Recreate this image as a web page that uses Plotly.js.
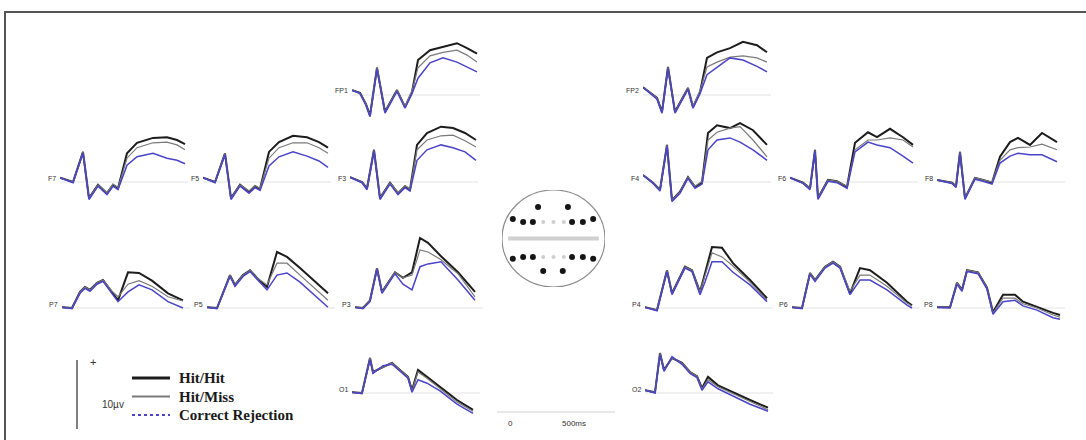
<!DOCTYPE html>
<html>
<head>
<meta charset="utf-8">
<script src="https://cdn.plot.ly/plotly-3.0.1.min.js"></script>
<style>html,body{margin:0;padding:0;background:#fff;}#chart{width:1086px;height:440px;}</style>
</head>
<body>
<div id="chart"></div>
<script>
// ---------- DATA (time in ms, amplitude in µV) ----------
const FP1_t   = [-100,-36,12,44,100,164,260,324,380,428,524,628,740,820,900];
const FP1_hit = [0.7,0.3,-1.3,-2.9,3.9,-2.4,0.7,-1.7,0.4,5.0,6.4,6.9,7.4,6.7,5.9];
const FP1_miss= [0.7,0.3,-1.3,-2.9,3.9,-2.4,0.7,-1.6,0.6,3.9,5.6,6.1,6.4,5.7,4.7];
const FP1_cr  = [0.7,0.2,-1.5,-3.1,3.7,-2.6,0.5,-1.9,0.2,2.4,4.6,5.3,4.7,4.0,3.3];

const FP2_t   = [-100,-44,12,52,100,156,260,300,356,412,492,596,700,812,892];
const FP2_hit = [1.1,0.4,-0.4,-2.4,4.0,-2.4,1.0,-1.7,0.4,5.3,6.1,6.7,7.6,7.1,6.1];
const FP2_miss= [1.1,0.4,-0.4,-2.4,4.0,-2.4,1.0,-1.6,0.6,4.0,4.7,5.4,5.6,5.3,4.7];
const FP2_cr  = [1.1,0.3,-0.6,-2.6,3.8,-2.6,0.8,-1.9,0.2,2.9,4.0,5.3,5.0,4.1,3.3];

const F7_t    = [-100,4,84,132,204,276,324,364,436,516,644,756,836,900];
const F7_hit  = [0.6,0,4.3,-2.3,-0.4,-1.6,-0.4,-0.9,4.1,5.6,6.3,6.4,6.0,5.4];
const F7_miss = [0.6,0,4.3,-2.3,-0.4,-1.5,-0.3,-0.8,3.4,4.9,5.6,5.7,5.3,4.6];
const F7_cr   = [0.6,-0.1,4.1,-2.5,-0.6,-1.8,-0.6,-1.1,2.4,3.6,4.1,3.4,3.1,2.6];

const F5_t    = [-100,-4,76,124,196,268,316,356,428,508,620,732,828,900];
const F5_hit  = [0.6,0,4.1,-2.3,-0.4,-1.4,-0.6,-1.0,4.3,5.7,6.6,6.4,5.7,4.9];
const F5_miss = [0.6,0,4.1,-2.3,-0.4,-1.3,-0.5,-0.9,3.4,4.9,5.6,5.6,4.9,4.1];
const F5_cr   = [0.6,-0.1,3.9,-2.5,-0.6,-1.6,-0.8,-1.2,2.3,3.6,4.3,3.7,3.0,2.1];

const F3_t    = [-100,-4,36,92,140,220,284,340,380,436,516,628,724,820,908];
const F3_hit  = [0.7,0,-0.9,4.6,-2.3,-0.1,-1.6,-0.6,-1.1,5.3,7.0,7.9,7.7,7.0,6.0];
const F3_miss = [0.7,0,-0.9,4.6,-2.3,-0.1,-1.5,-0.5,-1.0,4.6,6.0,6.6,6.7,5.9,5.0];
const F3_cr   = [0.7,-0.1,-1.1,4.4,-2.5,-0.3,-1.8,-0.8,-1.3,3.1,4.6,5.3,4.9,4.3,3.1];

const F4_t    = [-100,-20,36,92,132,196,260,316,372,420,492,596,676,780,892];
const F4_hit  = [1.0,-0.1,-1.1,5.3,-2.6,-1.4,0.7,-0.7,-0.1,7.0,8.1,7.7,8.4,7.4,5.3];
const F4_miss = [1.0,-0.1,-1.1,5.3,-2.6,-1.4,0.7,-0.6,0.1,6.0,7.1,7.7,7.9,6.0,3.6];
const F4_cr   = [1.0,-0.2,-1.3,5.1,-2.8,-1.6,0.5,-0.9,-0.3,4.6,6.0,6.3,5.7,4.6,3.1];

const F6_t    = [-100,4,60,100,124,204,276,356,420,524,596,700,804,884];
const F6_hit  = [0.6,-0.1,-0.9,4.6,-2.3,0.3,0.1,-0.7,5.6,7.1,6.4,7.6,6.4,5.3];
const F6_miss = [0.6,-0.1,-0.9,4.6,-2.3,0.3,0.1,-0.6,4.6,6.0,6.0,6.3,6.0,5.0];
const F6_cr   = [0.6,-0.2,-1.1,4.4,-2.5,0.1,-0.1,-0.9,4.3,5.7,5.3,4.9,3.7,2.7];

const F8_t    = [-100,20,52,84,124,204,268,340,404,484,548,644,740,860];
const F8_hit  = [0.3,-0.1,-0.6,4.3,-2.3,0.6,0.3,-0.1,3.6,5.7,6.3,5.3,7.0,5.7];
const F8_miss = [0.3,-0.1,-0.6,4.3,-2.3,0.6,0.3,0,3.1,4.6,4.9,5.0,5.4,4.6];
const F8_cr   = [0.3,-0.2,-0.8,4.1,-2.5,0.4,0.1,-0.3,2.7,3.7,4.1,3.9,3.9,2.9];

const P7_t    = [-100,-20,44,84,124,180,228,300,348,428,516,620,748,868];
const P7_hit  = [0.1,0,2.3,3.0,2.6,3.6,4.0,2.3,1.1,5.1,5.0,3.9,2.1,1.1];
const P7_miss = [0.1,0,2.3,3.0,2.6,3.6,4.0,2.4,1.6,3.4,3.9,3.1,1.6,1.0];
const P7_cr   = [0.1,-0.1,2.1,2.8,2.4,3.4,3.8,2.1,0.9,2.3,3.3,2.6,0.9,0];

const P5_t    = [-100,-20,84,124,188,244,300,380,460,540,644,780,868];
const P5_hit  = [0.1,0,4.7,3.3,4.7,5.4,4.3,3.0,8.0,7.3,5.7,3.6,2.1];
const P5_miss = [0.1,0,4.7,3.3,4.7,5.4,4.3,3.3,6.4,6.4,4.7,2.6,1.1];
const P5_cr   = [0.1,-0.1,4.5,3.1,4.5,5.2,4.1,2.6,4.7,5.0,3.7,1.6,0.1];

const P3_t    = [-100,-36,20,76,116,220,284,356,420,484,588,724,860];
const P3_hit  = [0.1,0,1.1,5.7,2.3,5.1,4.3,5.1,10.0,9.3,7.4,5.1,2.3];
const P3_miss = [0.1,0,1.1,5.7,2.3,5.1,4.3,4.7,8.3,8.0,6.9,4.9,1.6];
const P3_cr   = [0.1,-0.1,0.9,5.5,2.1,4.9,3.4,2.6,5.9,6.3,6.6,4.0,1.1];

const P4_t    = [-100,-4,76,116,220,276,340,380,436,516,604,740,876];
const P4_hit  = [0.1,-0.3,5.4,2.1,5.9,5.4,2.3,5.0,8.7,8.6,6.4,4.0,1.4];
const P4_miss = [0.1,-0.3,5.4,2.1,5.9,5.4,2.3,4.7,7.9,7.3,6.0,3.7,1.1];
const P4_cr   = [0.1,-0.4,5.2,1.9,5.7,5.2,1.9,3.7,6.6,6.6,5.1,3.3,0.9];

const P6_t    = [-100,-20,44,84,164,228,284,364,444,524,660,820,860];
const P6_hit  = [0.1,0,5.0,4.0,5.9,6.6,5.9,2.1,5.7,5.4,3.6,0.9,0.4];
const P6_miss = [0.1,0,5.0,4.0,5.9,6.6,5.9,2.4,4.7,4.7,3.1,0.7,0.3];
const P6_cr   = [0.1,-0.1,4.8,3.8,5.7,6.4,5.7,1.9,4.0,4.0,2.6,0.4,0];

const P8_t    = [-100,4,60,100,140,228,300,348,428,524,588,700,828,884];
const P8_hit  = [0.1,0.1,3.6,2.6,5.4,5.1,2.9,-0.6,1.9,1.9,0.9,0.1,-0.7,-1.0];
const P8_miss = [0.1,0.1,3.6,2.6,5.4,5.1,2.9,-0.7,1.4,1.4,0.6,0,-1.0,-1.3];
const P8_cr   = [0.1,0,3.4,2.4,5.2,4.9,2.7,-0.9,0.9,1.1,0.3,-0.3,-1.4,-1.6];

const O1_t    = [-100,-20,44,68,148,220,284,348,380,428,500,604,740,868];
const O1_hit  = [0.1,0,5.0,3.0,3.7,4.3,3.3,2.3,0.4,3.3,2.3,0.9,-1.0,-2.4];
const O1_miss = [0.1,0,5.0,3.0,3.7,4.3,3.3,2.3,0.3,3.0,2.1,0.6,-1.3,-2.6];
const O1_cr   = [0.1,-0.1,4.8,2.8,3.9,4.1,3.1,2.1,0.1,1.9,1.4,0.3,-1.6,-2.9];

const O2_t    = [-100,-20,20,52,116,196,260,316,356,404,484,604,740,884];
const O2_hit  = [0.4,0.1,5.7,3.3,5.0,4.3,3.0,2.4,0.7,2.3,1.1,0.1,-1.0,-2.1];
const O2_miss = [0.4,0.1,5.7,3.3,5.0,4.3,3.0,2.4,0.6,1.9,0.9,-0.1,-1.3,-2.4];
const O2_cr   = [0.4,0,5.5,3.1,5.2,4.1,2.8,2.2,0.4,1.6,0.6,-0.4,-1.6,-2.6];

// electrode montage (head coordinates, -1..1)
const elecNames = ['FP1','FP2','F7','F5','F3','F4','F6','F8','P7','P5','P3','P4','P6','P8','O1','O2'];
const elecX = [-0.30,0.28,-0.79,-0.59,-0.40,0.36,0.57,0.77,-0.79,-0.59,-0.40,0.36,0.57,0.77,-0.20,0.18];
const elecY = [0.65,0.65,0.40,0.34,0.34,0.34,0.34,0.40,-0.42,-0.38,-0.38,-0.38,-0.38,-0.42,-0.67,-0.67];
const midX = [-0.2,0,0.2,-0.2,0,0.2];
const midY = [0.34,0.34,0.34,-0.38,-0.38,-0.38];

const seriesNames = ['Hit/Hit','Hit/Miss','Correct Rejection'];
const scaleLabels = ['+','10µv','0','500ms'];

// ---------- LAYOUT (pixel positions) ----------
const W = 1086, H = 440;
const PANEL_W = 128, T0 = -100, T1 = 924;   // 8 ms per pixel
const PX_PER_UV = 7, PAD_TOP = 75, PAD_BOT = 35;
const panels = [
  {name:'FP1', x0:352, base:95,  d:[FP1_t,FP1_hit,FP1_miss,FP1_cr]},
  {name:'FP2', x0:643, base:95,  d:[FP2_t,FP2_hit,FP2_miss,FP2_cr]},
  {name:'F7',  x0:60,  base:182, d:[F7_t,F7_hit,F7_miss,F7_cr]},
  {name:'F5',  x0:203, base:182, d:[F5_t,F5_hit,F5_miss,F5_cr]},
  {name:'F3',  x0:350, base:182, d:[F3_t,F3_hit,F3_miss,F3_cr]},
  {name:'F4',  x0:643, base:182, d:[F4_t,F4_hit,F4_miss,F4_cr]},
  {name:'F6',  x0:790, base:182, d:[F6_t,F6_hit,F6_miss,F6_cr]},
  {name:'F8',  x0:937, base:182, d:[F8_t,F8_hit,F8_miss,F8_cr]},
  {name:'P7',  x0:62,  base:308, d:[P7_t,P7_hit,P7_miss,P7_cr]},
  {name:'P5',  x0:207, base:308, d:[P5_t,P5_hit,P5_miss,P5_cr]},
  {name:'P3',  x0:355, base:308, d:[P3_t,P3_hit,P3_miss,P3_cr]},
  {name:'P4',  x0:645, base:308, d:[P4_t,P4_hit,P4_miss,P4_cr]},
  {name:'P6',  x0:792, base:308, d:[P6_t,P6_hit,P6_miss,P6_cr]},
  {name:'P8',  x0:937, base:308, d:[P8_t,P8_hit,P8_miss,P8_cr]},
  {name:'O1',  x0:352, base:393, d:[O1_t,O1_hit,O1_miss,O1_cr]},
  {name:'O2',  x0:645, base:393, d:[O2_t,O2_hit,O2_miss,O2_cr]}
];
const styles = [
  {color:'#1c1c1c', width:2.0},
  {color:'#7a7a7a', width:1.2},
  {color:'#4a44c8', width:1.5}
];
const px = x => x / W;
const py = y => 1 - y / H;

const traces = [];
const layout = {
  width: W, height: H,
  margin: {l:0, r:0, t:0, b:0, pad:0},
  paper_bgcolor: '#ffffff', plot_bgcolor: 'rgba(0,0,0,0)',
  showlegend: false,
  shapes: [], annotations: []
};

panels.forEach((p, i) => {
  const s = i === 0 ? '' : String(i + 1);
  layout['xaxis' + s] = {domain:[px(p.x0), px(p.x0 + PANEL_W)], range:[T0, T1], visible:false, fixedrange:true, anchor:'y' + s};
  layout['yaxis' + s] = {domain:[py(p.base + PAD_BOT), py(p.base - PAD_TOP)], range:[-PAD_BOT / PX_PER_UV, PAD_TOP / PX_PER_UV], visible:false, fixedrange:true, anchor:'x' + s};
  layout.shapes.push({type:'line', xref:'x' + s, yref:'y' + s, x0:T0, x1:T1, y0:0, y1:0, line:{color:'#e2e2e2', width:1}, layer:'below'});
  [1, 2, 3].forEach(k => {
    traces.push({
      type:'scatter', mode:'lines', x:p.d[0], y:p.d[k], name:seriesNames[k - 1],
      xaxis:'x' + s, yaxis:'y' + s, line:{color:styles[k - 1].color, width:styles[k - 1].width, shape:'linear'},
      hoverinfo:'skip', cliponaxis:false
    });
  });
  layout.annotations.push({xref:'paper', yref:'paper', x:px(p.x0 - 2), y:py(p.base - 4), xanchor:'right', yanchor:'middle',
    text:p.name, showarrow:false, font:{family:'Liberation Sans, Arial', size:7, color:'#333'}});
});

// head diagram
const hs = String(panels.length + 1);
layout['xaxis' + hs] = {domain:[px(502), px(605)], range:[-1, 1], visible:false, fixedrange:true, anchor:'y' + hs};
layout['yaxis' + hs] = {domain:[py(287), py(190)], range:[-1, 1], visible:false, fixedrange:true, anchor:'x' + hs};
layout.shapes.push({type:'circle', xref:'x' + hs, yref:'y' + hs, x0:-1, x1:1, y0:-1, y1:1, line:{color:'#8c8c8c', width:1.2}});
layout.shapes.push({type:'line', xref:'x' + hs, yref:'y' + hs, x0:-0.88, x1:0.88, y0:0, y1:0, line:{color:'#d0d0d0', width:4}});
traces.push({type:'scatter', mode:'markers', x:midX, y:midY, xaxis:'x' + hs, yaxis:'y' + hs,
  marker:{color:'#cfcfcf', size:4}, hoverinfo:'skip'});
traces.push({type:'scatter', mode:'markers', x:elecX, y:elecY, text:elecNames, xaxis:'x' + hs, yaxis:'y' + hs,
  marker:{color:'#151515', size:6}, hoverinfo:'text'});

// frame
layout.shapes.push({type:'rect', xref:'paper', yref:'paper', x0:px(5), x1:px(1095), y0:py(460), y1:py(12), line:{color:'#555', width:2}, fillcolor:'rgba(0,0,0,0)'});

// amplitude scale bar + legend
layout.shapes.push({type:'line', xref:'paper', yref:'paper', x0:px(77), x1:px(77), y0:py(360), y1:py(429), line:{color:'#555', width:1.5}});
layout.annotations.push({xref:'paper', yref:'paper', x:px(88), y:py(370), text:scaleLabels[0], showarrow:false, font:{family:'Liberation Sans', size:11, color:'#333'}});
layout.annotations.push({xref:'paper', yref:'paper', x:px(100), y:py(412), text:scaleLabels[1], showarrow:false, font:{family:'Liberation Sans', size:10, color:'#333'}});
const legY = [378, 396.5, 415];
const legDash = ['solid', 'solid', 'dot'];
const legW = [3, 2, 2];
seriesNames.forEach((n, k) => {
  layout.shapes.push({type:'line', xref:'paper', yref:'paper', x0:px(132), x1:px(170), y0:py(legY[k]), y1:py(legY[k]),
    line:{color:styles[k].color, width:legW[k], dash:legDash[k]}});
  layout.annotations.push({xref:'paper', yref:'paper', x:px(177), y:py(legY[k]), xanchor:'left', yanchor:'middle',
    text:'<b>' + n + '</b>', showarrow:false, font:{family:'Liberation Serif, Times New Roman', size:15, color:'#1a1a1a'}});
});

// time scale bar
layout.shapes.push({type:'line', xref:'paper', yref:'paper', x0:px(497), x1:px(615), y0:py(412), y1:py(412), line:{color:'#cfcfcf', width:1}});
layout.annotations.push({xref:'paper', yref:'paper', x:px(510), y:py(430), text:scaleLabels[2], showarrow:false, font:{family:'Liberation Sans', size:8, color:'#333'}});
layout.annotations.push({xref:'paper', yref:'paper', x:px(574), y:py(430), text:scaleLabels[3], showarrow:false, font:{family:'Liberation Sans', size:8, color:'#333'}});

Plotly.newPlot('chart', traces, layout, {staticPlot:true, displayModeBar:false});
</script>
</body>
</html>
